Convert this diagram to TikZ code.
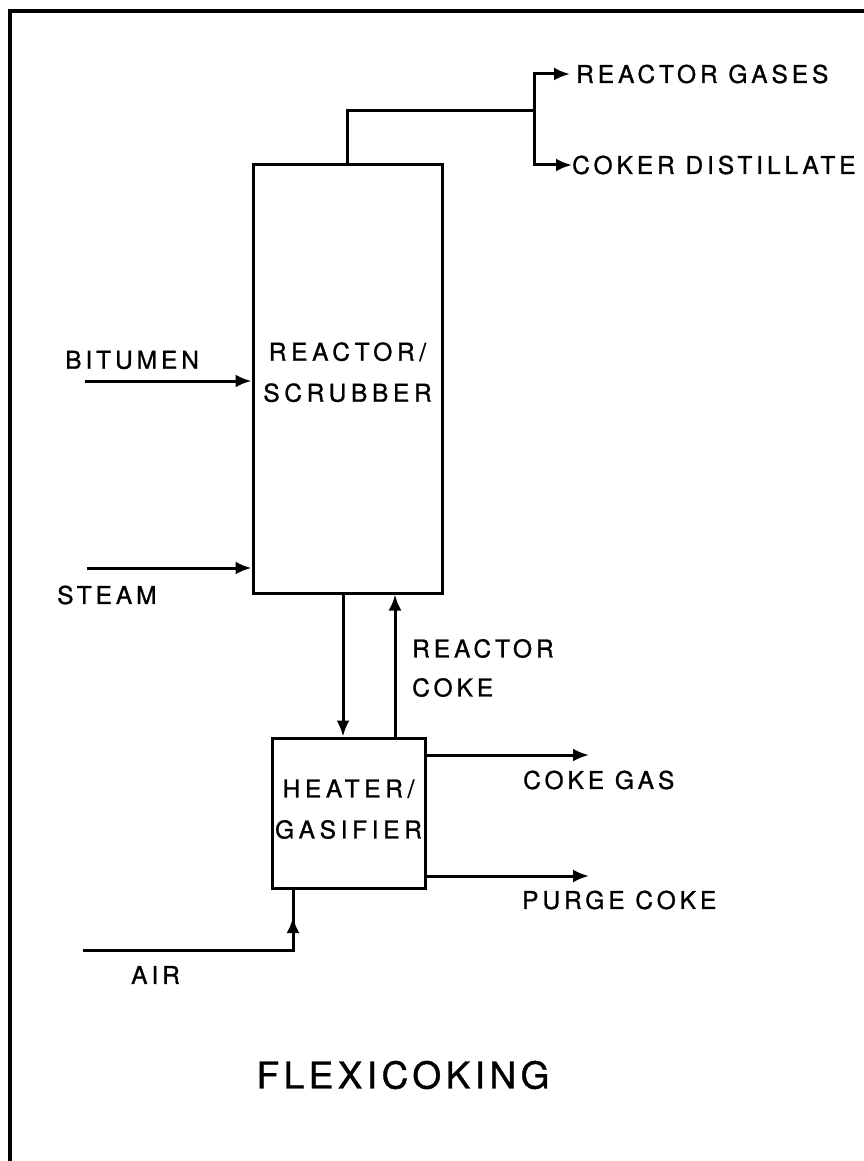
\documentclass[tikz,border=0pt]{standalone}
\usepackage{fontspec}
\usepackage{tikz}
\usetikzlibrary{arrows.meta,positioning}
\newfontfamily\flowfont[LetterSpace=16,FakeBold=1]{TeX Gyre Heros}
\newfontfamily\unitfont[LetterSpace=19,FakeBold=1]{TeX Gyre Heros}
\newfontfamily\titlefont[LetterSpace=12,FakeBold=1]{TeX Gyre Heros}

\tikzset{
  unit/.style={draw=black, line width=3pt, rectangle, inner sep=0pt, align=center,
    font={\unitfont\fontsize{24.5}{41}\selectfont}},
  stream/.style={line width=3pt},
  feed/.style={stream, -{Latex[length=16pt,width=13pt]}},
  tag/.style={inner sep=0pt, anchor=west, align=left,
    font={\flowfont\fontsize{24.5}{39}\selectfont}}
}

\begin{document}
\begin{tikzpicture}[x=1pt,y=-1pt]
\useasboundingbox (0,0) rectangle (864,1161);

%Frame
\draw[line width=3.5pt] (10,1170) |- (870,11);

%Reactor/scrubber
\node[unit, minimum width=189pt, minimum height=428pt, text depth=14pt] (reactor) at (347.5,379) {REACTOR/\\SCRUBBER};

%Heater/gasifier
\node[unit, minimum width=153pt, minimum height=150pt, text depth=8pt] (heater) at (348.5,813) {HEATER/\\GASIFIER};

%Labels
\node[tag, inner xsep=6pt] (gases) at (570,74) {REACTOR GASES};
\node[tag] (distillate) at (572,165) {COKER DISTILLATE};
\node[tag] (bitumen) at (65,360) {BITUMEN};
\node[tag] (steam) at (57,595) {STEAM};
\node[tag] (rcoke) at (412,668) {REACTOR\\COKE};
\node[tag] (cokegas) at (523,780) {COKE GAS};
\node[tag] (purge) at (522,900) {PURGE COKE};
\node[tag] (air) at (131,975) {AIR};
\node[inner sep=0pt, font={\titlefont\fontsize{37}{40}\selectfont}] (title) at (403,1075) {FLEXICOKING};

%Free ends
\coordinate (split) at (534,111);
\coordinate (bitin) at (85,381);
\coordinate (steamin) at (87,568);
\coordinate (downx) at (343,0);
\coordinate (upx) at (395,0);
\coordinate (gasend) at (589,755);
\coordinate (purgeend) at (589,876);
\coordinate (airin) at (83,950);
\coordinate (airx) at (293,0);

%Overhead
\draw[stream] (reactor.north) |- (split);
\draw[feed] (split) |- (gases.west);
\draw[feed] (split) |- (distillate.west);

%Feeds
\draw[feed] (bitin) -- (bitin -| reactor.west);
\draw[feed] (steamin) -- (steamin -| reactor.west);

%Coke circulation
\draw[feed] (reactor.south -| downx) -- (heater.north -| downx);
\draw[feed] (heater.north -| upx) -- (reactor.south -| upx);

%Heater products
\draw[feed] (gasend -| heater.east) -- (gasend);
\draw[feed] (purgeend -| heater.east) -- (purgeend);

%Air
\draw[stream] (airin) -| (heater.south -| airx);
\draw[feed] (airin -| airx) -- ++(0,-33);
\end{tikzpicture}
\end{document}
